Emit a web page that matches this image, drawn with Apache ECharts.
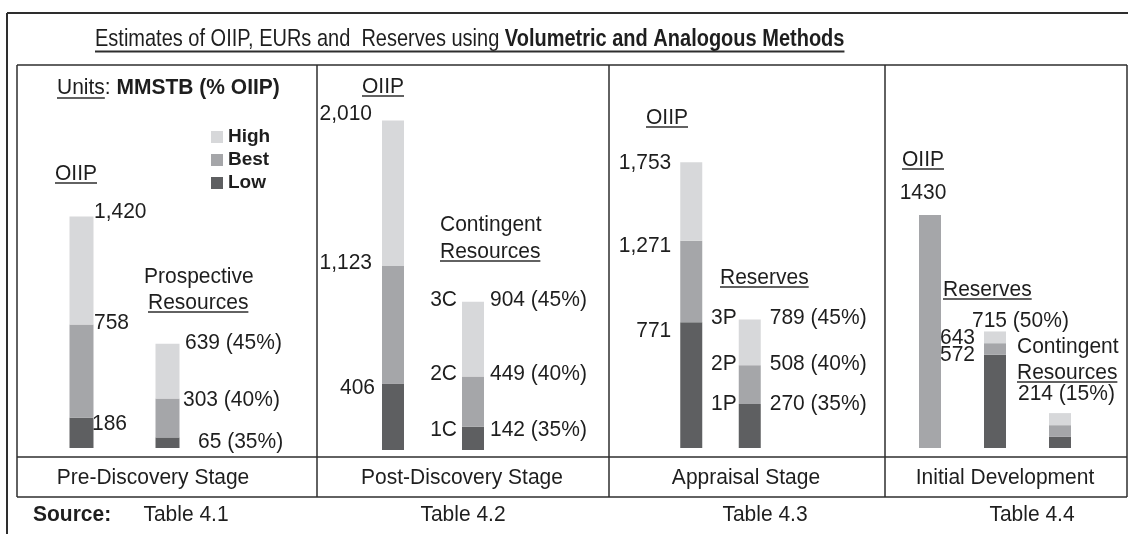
<!DOCTYPE html>
<html>
<head>
<meta charset="utf-8">
<title>Estimates of OIIP, EURs and Reserves</title>
<script src="https://cdn.jsdelivr.net/npm/echarts@6/dist/echarts.min.js"></script>
<style>
  html, body { margin: 0; padding: 0; background: #fff; }
  #chart { width: 1128px; height: 534px; }
</style>
</head>
<body>
<div id="chart"></div>
<script>
// MMSTB, cumulative values as printed (Low <= Best <= High)
const preCats = ['OIIP', 'Prospective Resources'];
const preLow = [186, 65];
const preBest = [758, 303];
const preHigh = [1420, 639];

const postCats = ['OIIP', 'Contingent Resources'];
const postLow = [406, 142];
const postBest = [1123, 449];
const postHigh = [2010, 904];

const appCats = ['OIIP', 'Reserves'];
const appLow = [771, 270];
const appBest = [1271, 508];
const appHigh = [1753, 789];

const devCats = ['OIIP', 'Reserves', 'Contingent Resources'];
const devLow = [null, 572, 70];
const devBest = [1430, 643, 140];
const devHigh = [null, 715, 214];

// recovery as % of OIIP: low, best, high
const recPct = [35, 40, 45];
const devResPct = 50;
const devConPct = 15;

const stageNames = ['Pre-Discovery Stage', 'Post-Discovery Stage', 'Appraisal Stage', 'Initial Development'];
const sourceTables = ['Table 4.1', 'Table 4.2', 'Table 4.3', 'Table 4.4'];

const FONT = '"Liberation Sans", Arial, Helvetica, sans-serif';
const INK = '#1e1e1e';
const LINE = '#2e2e2e';
const C_LOW = '#5e5f61';
const C_BEST = '#a5a6a9';
const C_HIGH = '#d7d8da';
const FS = 21;
const SY = 1.04; // the source lettering is a little taller than it is wide
const Y_MAX = 2135;

const panels = [
  { cats: preCats, low: preLow, best: preBest, high: preHigh, left: 38.5, width: 172, bottom: 86, bw: 24 },
  { cats: postCats, low: postLow, best: postBest, high: postHigh, left: 353, width: 160, bottom: 84, bw: 22 },
  { cats: appCats, low: appLow, best: appBest, high: appHigh, left: 662, width: 117, bottom: 86, bw: 22 },
  { cats: devCats, low: devLow, best: devBest, high: devHigh, left: 897.5, width: 195, bottom: 86, bw: 22 }
];

const chart = echarts.init(document.getElementById('chart'));

const grids = [], xAxes = [], yAxes = [], series = [];
panels.forEach((p, i) => {
  grids.push({ left: p.left, width: p.width, top: 100, bottom: p.bottom });
  xAxes.push({ type: 'category', gridIndex: i, data: p.cats, show: false });
  yAxes.push({ type: 'value', gridIndex: i, min: 0, max: Y_MAX, show: false });
  // stacked steps between the cumulative estimates
  const lowStep = p.low.map(v => (v == null ? '-' : v));
  const bestStep = p.best.map((v, k) => (v == null ? '-' : v - (p.low[k] || 0)));
  const highStep = p.high.map((v, k) => (v == null ? '-' : v - (p.best[k] || 0)));
  [['Low', lowStep, C_LOW], ['Best', bestStep, C_BEST], ['High', highStep, C_HIGH]].forEach(s => {
    series.push({
      name: s[0], type: 'bar', stack: 'p' + i, xAxisIndex: i, yAxisIndex: i,
      barWidth: p.bw, data: s[1], itemStyle: { color: s[2] }, silent: true
    });
  });
});

chart.setOption({
  animation: false,
  textStyle: { fontFamily: FONT },
  grid: grids, xAxis: xAxes, yAxis: yAxes, series: series,
  legend: {
    data: ['High', 'Best', 'Low'], orient: 'vertical', left: 211, top: 127, padding: 0,
    icon: 'rect', itemWidth: 12, itemHeight: 12, itemGap: 3, selectedMode: false,
    textStyle: { fontFamily: FONT, fontSize: 19, fontWeight: 'bold', color: INK, lineHeight: 20 }
  }
});

// ---- text and frame overlay ----
const ctx = document.createElement('canvas').getContext('2d');
function textW(s, size, bold) {
  ctx.font = (bold ? 'bold ' : '') + size + 'px ' + FONT;
  return ctx.measureText(s).width;
}
function txt(x, y, s, align, bold, size) {
  return {
    type: 'text', x: x, y: y, scaleY: SY, silent: true, z: 10,
    style: {
      text: s, fill: INK, fontFamily: FONT, fontSize: size || FS,
      fontWeight: bold ? 'bold' : 'normal', align: align || 'left', verticalAlign: 'middle'
    }
  };
}
function line(x1, y1, x2, y2, w) {
  return { type: 'line', silent: true, z: 10, shape: { x1: x1, y1: y1, x2: x2, y2: y2 }, style: { stroke: LINE, lineWidth: w || 1.5 } };
}
function uText(x, y, s) {
  return [txt(x, y, s), line(x, y + 9, x + textW(s, FS), y + 9, 1.5)];
}
const comma = v => v.toLocaleString('en-US');

// value label next to a bar level, offsets from the bar centre
function lab(g, cat, v, s, align, dx, dy) {
  const pt = chart.convertToPixel({ xAxisIndex: g, yAxisIndex: g }, [cat, v]);
  return txt(pt[0] + dx, pt[1] + dy, s, align);
}

const G = [];
// frames
G.push(line(7, 13, 1128, 13, 2), line(7, 13, 7, 534, 2));
G.push(line(17, 65, 1127, 65), line(17, 65, 17, 497), line(1127, 65, 1127, 497));
G.push(line(17, 457, 1127, 457), line(17, 497, 1127, 497));
[317, 609, 885].forEach(x => G.push(line(x, 65, x, 497)));

// title
const tNorm = 'Estimates of OIIP, EURs and  Reserves using ';
const tBold = 'Volumetric and Analogous Methods';
const TS = 20;
G.push({
  type: 'text', x: 95, y: 39.5, scaleY: 1.22, silent: true, z: 10,
  style: {
    text: '{n|' + tNorm + '}{b|' + tBold + '}', verticalAlign: 'middle', align: 'left',
    rich: {
      n: { fontFamily: FONT, fontSize: TS, fill: INK, color: INK },
      b: { fontFamily: FONT, fontSize: TS, fontWeight: 'bold', fill: INK, color: INK }
    }
  }
});
G.push(line(95, 51.5, 95 + textW(tNorm, TS) + textW(tBold, TS, true), 51.5, 2));

// units
G.push({
  type: 'text', x: 57, y: 88, scaleY: SY, silent: true, z: 10,
  style: {
    text: '{n|Units: }{b|MMSTB (% OIIP)}', verticalAlign: 'middle', align: 'left',
    rich: {
      n: { fontFamily: FONT, fontSize: FS, fill: INK, color: INK },
      b: { fontFamily: FONT, fontSize: FS, fontWeight: 'bold', fill: INK, color: INK }
    }
  }
});
G.push(line(57, 98, 57 + textW('Units', FS), 98, 1.5));

// section headings
G.push(...uText(55, 174, 'OIIP'));
G.push(txt(144, 277, 'Prospective'), ...uText(148, 303, 'Resources'));
G.push(...uText(362, 87, 'OIIP'));
G.push(txt(440, 225, 'Contingent'), ...uText(440, 252, 'Resources'));
G.push(...uText(646, 118, 'OIIP'));
G.push(...uText(720, 278, 'Reserves'));
G.push(...uText(902, 160, 'OIIP'));
G.push(...uText(943, 290, 'Reserves'));
G.push(txt(1017, 347, 'Contingent'), ...uText(1017, 373, 'Resources'));

// pre-discovery
G.push(lab(0, 0, preHigh[0], comma(preHigh[0]), 'left', 12.5, -5));
G.push(lab(0, 0, preBest[0], comma(preBest[0]), 'left', 12.5, -1));
G.push(lab(0, 0, preLow[0], comma(preLow[0]), 'left', 10.5, 6));
G.push(lab(0, 1, preHigh[1], preHigh[1] + ' (' + recPct[2] + '%)', 'left', 17.5, -1));
G.push(lab(0, 1, preBest[1], preBest[1] + ' (' + recPct[1] + '%)', 'left', 15.5, 1));
G.push(lab(0, 1, preLow[1], preLow[1] + ' (' + recPct[0] + '%)', 'left', 30.5, 5));

// post-discovery
G.push(lab(1, 0, postHigh[0], comma(postHigh[0]), 'right', -21, -7));
G.push(lab(1, 0, postBest[0], comma(postBest[0]), 'right', -21, -3));
G.push(lab(1, 0, postLow[0], comma(postLow[0]), 'right', -18, 5));
[['3C', postHigh[1], recPct[2], -2], ['2C', postBest[1], recPct[1], -2], ['1C', postLow[1], recPct[0], 3]].forEach(r => {
  G.push(lab(1, 1, r[1], r[0], 'right', -16, r[3]));
  G.push(lab(1, 1, r[1], r[1] + ' (' + r[2] + '%)', 'left', 17, r[3]));
});

// appraisal
G.push(lab(2, 0, appHigh[0], comma(appHigh[0]), 'right', -20, 1));
G.push(lab(2, 0, appBest[0], comma(appBest[0]), 'right', -20, 5));
G.push(lab(2, 0, appLow[0], comma(appLow[0]), 'right', -20, 9));
[['3P', appHigh[1], recPct[2], -1], ['2P', appBest[1], recPct[1], -1], ['1P', appLow[1], recPct[0], 0]].forEach(r => {
  G.push(lab(2, 1, r[1], r[0], 'right', -13, r[3]));
  G.push(lab(2, 1, r[1], r[1] + ' (' + r[2] + '%)', 'left', 20, r[3]));
});

// initial development
G.push(lab(3, 0, devBest[0], String(devBest[0]), 'center', -7, -22));
G.push(lab(3, 1, devHigh[1], devHigh[1] + ' (' + devResPct + '%)', 'left', -23, -10));
G.push(lab(3, 1, devBest[1], String(devBest[1]), 'right', -20, -5));
G.push(lab(3, 1, devLow[1], String(devLow[1]), 'right', -20, 0));
G.push(lab(3, 2, devHigh[2], devHigh[2] + ' (' + devConPct + '%)', 'left', -42, -19));

// stage row and sources
const stageX = [153, 462, 746, 1005];
const srcX = [186, 463, 765, 1032];
stageNames.forEach((s, i) => G.push(txt(stageX[i], 478, s, 'center')));
G.push(txt(33, 515, 'Source:', 'left', true));
sourceTables.forEach((s, i) => G.push(txt(srcX[i], 515, s, 'center')));

chart.setOption({ graphic: G });
</script>
</body>
</html>
